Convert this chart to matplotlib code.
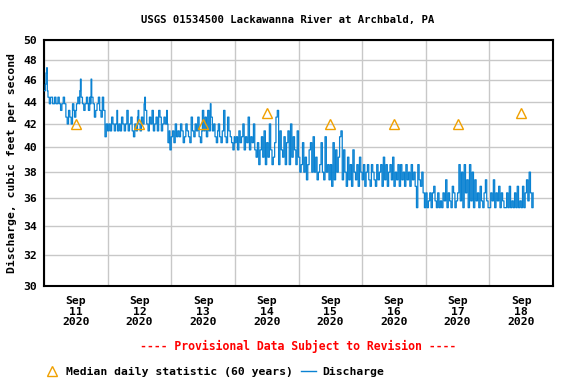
import matplotlib
matplotlib.use('Agg')
import matplotlib.pyplot as plt
import matplotlib.dates as mdates
from matplotlib.lines import Line2D
from matplotlib.ticker import FixedLocator, NullLocator
import pandas as pd

# niveles de caudal (cfs) codificados con un caracter
niveles = {
    '0': 35.3, '1': 35.8, '2': 36.4, '3': 36.9, '4': 37.4, '5': 38.0,
    '6': 38.6, '7': 39.2, '8': 39.8, '9': 40.4, 'A': 40.9, 'B': 41.4,
    'C': 42.0, 'D': 42.6, 'E': 43.2, 'F': 43.8, 'G': 44.4, 'H': 45.0,
    'I': 45.6, 'J': 46.1, 'K': 46.7, 'L': 47.2,
}

# lecturas cada 15 minutos, un texto por dia
dia_11 = ("HHIKLHGGFFGGGFFFGGFFFGGF" "FEEFFGGFFDDCCEEDDCCFFEDD"
          "EFFGGFHJGGFFEEFFGGFEEGFJ" "GGFFDDEEFFGGEEDDGGEEAACC")
dia_12 = ("BBCCBBDDCCBBCCEBBCCBBDDC" "CBBCCEEBBCCDDBBAACCBBDEC"
          "CBBDDCCFGEECCBBDDCCEEBBC" "CDDBBEEDDBBCCDDCCEC99B88")
dia_13 = ("AABB99CCAABBAACCBB99AACC" "BBAA99DDBBAACCBBDDAA99BE"
          "EBBDDAAEEBBFDDBBCCAA99BC" "CAA99BBEEAA99DDBBAA9988A")
dia_14 = ("99AA88BB99AACC88AA99DD88" "AA99CC8877996688AA77BB66"
          "9977CC88667799DDEE66BB88" "77AA6699BB66CC77AA8866BB")
dia_15 = ("7755669955774466889955AA" "5577445566995544AA556644"
          "66339944885577AABB448855" "337744663388554466337755")
dia_16 = ("446633556644336655443366" "445566337744663355664477"
          "335544663366445533664455" "336644553300664433552200")
dia_17 = ("220011220022331100220011" "002211440022110033220011"
          "226611550066224400661155" "004411220033110022441100")
dia_18 = ("002211440022113300221100" "002200330011002200330011"
          "0033002244115522002")

codigos = dia_11 + dia_12 + dia_13 + dia_14 + dia_15 + dia_16 + dia_17 + dia_18
caudal = [niveles[c] for c in codigos]
tiempos = pd.date_range('2020-09-11 00:00', periods=len(caudal), freq='15min')

# mediana diaria (60 anos), al mediodia de cada dia
dias_mediana = pd.date_range('2020-09-11 12:00', periods=8, freq='D')
mediana = [42, 42, 42, 43, 42, 42, 42, 43]

y_ticks = [30, 32, 34, 36, 38, 40, 42, 44, 46, 48, 50]

azul = '#0a82d2'
naranja = '#f0a000'
fuente = 'DejaVu Sans Mono'

fig = plt.figure(figsize=(5.76, 3.84), dpi=100)
ax = fig.add_axes([44 / 576, 1 - 286 / 384, (553 - 44) / 576, (286 - 40) / 384])

ax.plot(tiempos, caudal, color=azul, lw=0.9, drawstyle='steps-post', zorder=3)
ax.plot(dias_mediana, mediana, ls='none', marker='^', ms=7, mfc='none',
        mec=naranja, mew=1.0, zorder=4)

ax.set_yscale('log')
ax.set_ylim(30, 50)
ax.yaxis.set_major_locator(FixedLocator(y_ticks))
ax.yaxis.set_minor_locator(NullLocator())
ax.set_yticklabels([str(v) for v in y_ticks])

ax.set_xlim(pd.Timestamp('2020-09-11'), pd.Timestamp('2020-09-19'))
ax.xaxis.set_major_locator(mdates.HourLocator(byhour=[12]))
ax.xaxis.set_major_formatter(mdates.DateFormatter('%b\n%d\n%Y'))
ax.xaxis.set_minor_locator(mdates.DayLocator())

ax.grid(True, which='major', axis='y', color='#c8c8c8', lw=1)
ax.grid(True, which='minor', axis='x', color='#c8c8c8', lw=1)
ax.tick_params(which='both', length=0)
ax.tick_params(axis='y', pad=5)
ax.tick_params(axis='x', pad=7)
for lab in ax.get_xticklabels() + ax.get_yticklabels():
    lab.set_fontfamily(fuente)
    lab.set_fontweight('bold')
    lab.set_fontsize(8.2)
for lab in ax.get_xticklabels():
    lab.set_linespacing(1.1)
for s in ax.spines.values():
    s.set_linewidth(1.5)
    s.set_color('black')

fig.text(0.5, 1 - 20 / 384, 'USGS 01534500 Lackawanna River at Archbald, PA',
         ha='center', va='center', family=fuente, weight='bold', fontsize=7.7)
fig.text(12 / 576, 1 - 163 / 384, 'Discharge, cubic feet per second', rotation=90,
         ha='center', va='center', family=fuente, weight='bold', fontsize=8.2)
fig.text(298 / 576, 1 - 346 / 384, '---- Provisional Data Subject to Revision ----',
         ha='center', va='center', family=fuente, weight='bold', fontsize=8.3,
         color='red')

h1 = Line2D([], [], ls='none', marker='^', ms=7, mfc='none', mec=naranja, mew=1.0)
h2 = Line2D([], [], color=azul, lw=1.0)
fig.legend([h1, h2], ['Median daily statistic (60 years)', 'Discharge'],
           loc='center left', bbox_to_anchor=(45 / 576, 1 - 372 / 384), ncol=2,
           frameon=False, borderpad=0, borderaxespad=0, handlelength=1.3,
           handletextpad=0.5, columnspacing=0.8,
           prop={'family': fuente, 'weight': 'bold', 'size': 8.2})

fig.savefig('out.png', dpi=100)
